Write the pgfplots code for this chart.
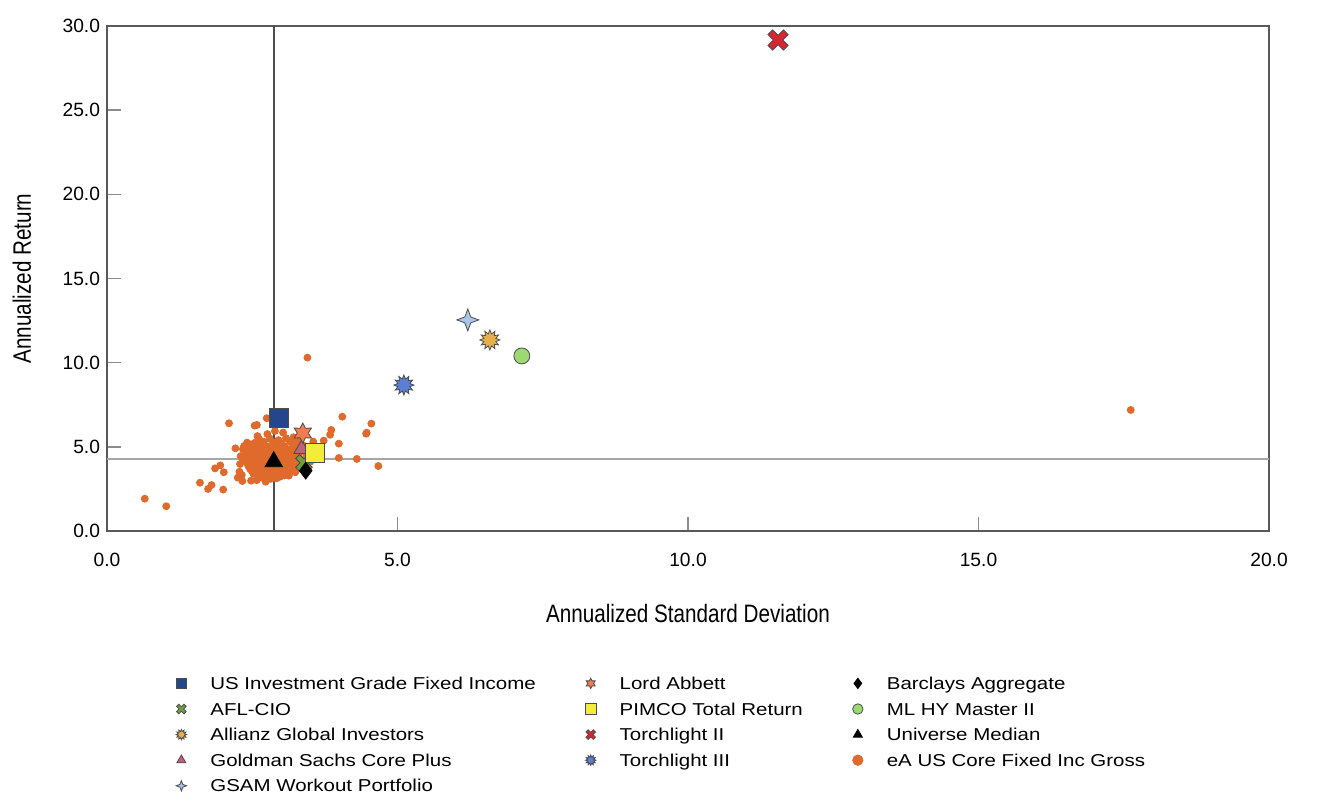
\documentclass[border=0pt]{standalone}
\usepackage{fontspec}
\setmainfont{Liberation Sans}
\newfontfamily\narrowfont[FakeStretch=0.82]{Liberation Sans}
\newfontfamily\widefont[FakeStretch=1.19]{Liberation Sans}
\usepackage{pgfplots}
\pgfplotsset{compat=1.18}

\definecolor{eAorange}{HTML}{E06A2C}
\definecolor{usig}{HTML}{26468C}
\definecolor{afl}{HTML}{6E9F3B}
\definecolor{allianz}{HTML}{E8AE4C}
\definecolor{goldman}{HTML}{C0607E}
\definecolor{gsam}{HTML}{A9C5E8}
\definecolor{lord}{HTML}{F47C4E}
\definecolor{pimco}{HTML}{F2EC3A}
\definecolor{tl2}{HTML}{D7262F}
\definecolor{tl3}{HTML}{5B7FD3}
\definecolor{mlhy}{HTML}{9CD873}

% star shaped marks: #1 points, #2 inner radius ratio
\newcount\bcnt
\def\starpath#1#2{%
  \pgfpathmoveto{\pgfpointpolar{90}{\pgfplotmarksize}}%
  \bcnt=1
  \loop\ifnum\bcnt<\numexpr2*#1\relax
    \pgfmathsetmacro\ang{90+\the\bcnt*180/#1}%
    \ifodd\bcnt \pgfpathlineto{\pgfpointpolar{\ang}{#2\pgfplotmarksize}}%
    \else \pgfpathlineto{\pgfpointpolar{\ang}{\pgfplotmarksize}}\fi
    \advance\bcnt by 1
  \repeat
  \pgfpathclose}
\pgfdeclareplotmark{burst}{\starpath{12}{0.62}\pgfusepathqfillstroke}
\pgfdeclareplotmark{star6}{\starpath{6}{0.55}\pgfusepathqfillstroke}
\pgfdeclareplotmark{sparkle}{\starpath{4}{0.38}\pgfusepathqfillstroke}
\pgfdeclareplotmark{fatx}{%
  \pgftransformrotate{45}%
  \pgfpathmoveto{\pgfqpoint{0.3\pgfplotmarksize}{\pgfplotmarksize}}%
  \pgfpathlineto{\pgfqpoint{0.3\pgfplotmarksize}{0.3\pgfplotmarksize}}%
  \pgfpathlineto{\pgfqpoint{\pgfplotmarksize}{0.3\pgfplotmarksize}}%
  \pgfpathlineto{\pgfqpoint{\pgfplotmarksize}{-0.3\pgfplotmarksize}}%
  \pgfpathlineto{\pgfqpoint{0.3\pgfplotmarksize}{-0.3\pgfplotmarksize}}%
  \pgfpathlineto{\pgfqpoint{0.3\pgfplotmarksize}{-\pgfplotmarksize}}%
  \pgfpathlineto{\pgfqpoint{-0.3\pgfplotmarksize}{-\pgfplotmarksize}}%
  \pgfpathlineto{\pgfqpoint{-0.3\pgfplotmarksize}{-0.3\pgfplotmarksize}}%
  \pgfpathlineto{\pgfqpoint{-\pgfplotmarksize}{-0.3\pgfplotmarksize}}%
  \pgfpathlineto{\pgfqpoint{-\pgfplotmarksize}{0.3\pgfplotmarksize}}%
  \pgfpathlineto{\pgfqpoint{-0.3\pgfplotmarksize}{0.3\pgfplotmarksize}}%
  \pgfpathlineto{\pgfqpoint{-0.3\pgfplotmarksize}{\pgfplotmarksize}}%
  \pgfpathclose\pgfusepathqfillstroke}

\pgfplotstableread{
x y
0.65 1.92
1.02 1.47
1.60 2.87
1.74 2.50
1.80 2.73
2.00 2.46
1.86 3.72
1.95 3.90
2.01 3.49
2.21 4.91
2.34 4.87
2.41 5.25
2.29 3.98
2.25 3.17
2.33 2.97
2.48 2.99
2.28 3.52
2.32 3.33
2.45 4.16
2.49 3.57
2.55 3.62
2.54 6.26
2.58 6.30
2.75 6.70
2.59 5.64
2.76 5.76
2.89 5.94
2.73 2.93
2.92 3.13
2.98 3.23
3.13 3.29
3.24 3.49
3.21 5.57
3.45 10.30
2.10 6.40
4.05 6.79
4.55 6.38
4.46 5.78
4.47 5.84
3.86 6.00
3.84 5.72
3.99 5.19
3.99 4.34
4.30 4.28
4.67 3.86
3.73 5.37
3.55 5.31
3.03 5.85
17.62 7.19
2.62 5.45
2.80 5.50
2.95 5.40
3.08 5.52
3.30 5.45
2.55 5.25
2.70 5.30
2.86 5.28
3.00 5.22
3.15 5.30
3.27 5.20
2.48 5.15
2.52 5.05
2.64 5.10
2.78 5.02
2.92 5.12
3.05 5.05
3.20 5.00
3.38 5.08
2.46 4.88
2.58 4.92
2.68 4.85
2.76 4.95
2.88 4.86
2.98 4.93
3.10 4.88
3.22 4.80
3.35 4.90
2.44 4.70
2.55 4.66
2.63 4.74
2.72 4.68
2.82 4.75
2.91 4.64
3.02 4.72
3.12 4.65
3.26 4.70
3.42 4.62
2.42 4.50
2.52 4.46
2.60 4.55
2.69 4.48
2.78 4.52
2.87 4.44
2.96 4.54
3.06 4.47
3.16 4.55
3.30 4.45
3.45 4.50
2.38 4.30
2.48 4.34
2.57 4.26
2.66 4.32
2.75 4.24
2.84 4.36
2.93 4.27
3.03 4.33
3.14 4.25
3.24 4.30
3.38 4.22
3.60 4.30
2.40 4.10
2.50 4.06
2.59 4.14
2.68 4.04
2.77 4.12
2.86 4.08
2.96 4.15
3.05 4.02
3.18 4.10
3.32 4.05
3.50 4.12
2.43 3.88
2.53 3.94
2.62 3.86
2.71 3.92
2.80 3.84
2.90 3.90
3.00 3.85
3.10 3.93
3.22 3.86
3.40 3.90
2.46 3.70
2.56 3.66
2.65 3.74
2.74 3.68
2.84 3.72
2.94 3.65
3.05 3.70
3.18 3.64
3.30 3.72
2.60 3.50
2.70 3.46
2.80 3.52
2.90 3.44
3.00 3.50
3.12 3.45
2.52 3.40
2.62 3.28
2.72 3.32
2.85 3.26
2.68 3.15
2.82 3.10
3.05 3.30
2.58 3.02
2.75 3.05
2.36 5.05
2.39 4.60
2.30 4.45
2.35 4.20
2.61 4.40
2.71 4.58
2.81 4.62
2.66 4.80
2.74 4.38
2.88 4.56
2.79 4.18
2.63 3.98
2.73 3.78
2.83 3.98
2.93 4.40
2.55 4.20
2.96 3.75
3.08 4.20
3.10 4.40
}\eAdata

\begin{document}
\begin{tikzpicture}[font=\fontsize{9.6bp}{11bp}\selectfont]
\path[use as bounding box] (-53.5bp,-131bp) rectangle (611.5bp,265.5bp);
\begin{axis}[
  at={(0,0)}, anchor=south west,
  scale only axis, width=581bp, height=252.5bp,
  xmin=0, xmax=20, ymin=0, ymax=30,
  xtick={0,5,10,15,20}, ytick={0,5,10,15,20,25,30},
  xticklabels={0.0,5.0,10.0,15.0,20.0},
  yticklabels={0.0,5.0,10.0,15.0,20.0,25.0,30.0},
  tick align=inside, xtick pos=bottom, ytick pos=left,
  major tick length=7bp,
  tick style={black!45, line width=0.8bp},
  axis line style={black!65, line width=0.6bp},
  xticklabel style={yshift=-7.5bp},
  xlabel={Annualized Standard Deviation},
  ylabel={Annualized Return},
  label style={font=\narrowfont\fontsize{12.6bp}{14bp}\selectfont},
  xlabel style={at={(axis description cs:0.5,-0.1624)}, anchor=center},
  ylabel style={at={(axis description cs:-0.0732,0.5)}, anchor=center},
  legend cell align=left,
  legend columns=5, transpose legend,
  legend image code/.code={%
    \path[draw=none, fill=none] (-3bp,-5bp) rectangle (11.5bp,5bp);
    \draw[#1, mark size=2.6bp] plot coordinates {(0bp,0.7bp)};},
  legend style={at={(axis description cs:0.0585,-0.2784)}, anchor=north west,
    draw=none, fill=none, inner sep=0pt,
    font=\widefont\fontsize{8.6bp}{10bp}\selectfont,
    nodes={inner xsep=3bp, inner ysep=1.8bp, text height=7bp, text depth=2.2bp},
    /tikz/every even column/.append style={column sep=21.5bp}},
  mark options={draw=black!70, line width=0.4bp},
]
% eA universe cloud
\addplot[only marks, mark=*, mark size=1.75bp, color=eAorange, mark options={draw=none}, forget plot] table {\eAdata};
% median crosshairs
\addplot[black!70, line width=0.8bp, forget plot] coordinates {(2.87,0) (2.87,30)};
\addplot[black!35, line width=1bp, forget plot] coordinates {(0,4.28) (20,4.28)};

\addplot[only marks, mark=square*, mark size=4.75bp, fill=usig] coordinates {(2.96,6.71)};
\addlegendentry{US Investment Grade Fixed Income}
\addplot[only marks, mark=fatx, mark size=4.5bp, fill=afl] coordinates {(3.39,4.05)};
\addlegendentry{AFL-CIO}
\addplot[only marks, mark=burst, mark size=5bp, fill=allianz] coordinates {(6.59,11.35)};
\addlegendentry{Allianz Global Investors}
\addplot[only marks, mark=triangle*, mark size=4.5bp, fill=goldman] coordinates {(3.35,4.87)};
\addlegendentry{Goldman Sachs Core Plus}
\addplot[only marks, mark=sparkle, mark size=5.5bp, fill=gsam] coordinates {(6.21,12.54)};
\addlegendentry{GSAM Workout Portfolio}
\addplot[only marks, mark=star6, mark size=5bp, fill=lord] coordinates {(3.37,5.82)};
\addlegendentry{Lord Abbett}
\addplot[only marks, mark=square*, mark size=4.75bp, fill=pimco] coordinates {(3.58,4.63)};
\addlegendentry{PIMCO Total Return}
\addplot[only marks, mark=fatx, mark size=5.5bp, fill=tl2] coordinates {(11.55,29.17)};
\addlegendentry{Torchlight II}
\addplot[only marks, mark=burst, mark size=5bp, fill=tl3] coordinates {(5.11,8.67)};
\addlegendentry{Torchlight III}
\addlegendimage{empty legend}
\addlegendentry{}
\addplot[only marks, mark=diamond*, mark size=4.2bp, fill=black, mark options={draw=black}] coordinates {(3.42,3.58)};
\addlegendentry{Barclays Aggregate}
\addplot[only marks, mark=*, mark size=4bp, fill=mlhy] coordinates {(7.14,10.40)};
\addlegendentry{ML HY Master II}
\addplot[only marks, mark=triangle*, mark size=5bp, fill=black, mark options={draw=black}] coordinates {(2.87,4.12)};
\addlegendentry{Universe Median}
\addlegendimage{only marks, mark=*, color=eAorange, mark options={draw=none}}
\addlegendentry{eA US Core Fixed Inc Gross}

\node[rotate=-90, anchor=center, font=\narrowfont\fontsize{12.6bp}{14bp}\selectfont] at (axis description cs:1.0422,0.5) {210 Portfolios};
\end{axis}
\end{tikzpicture}
\end{document}
